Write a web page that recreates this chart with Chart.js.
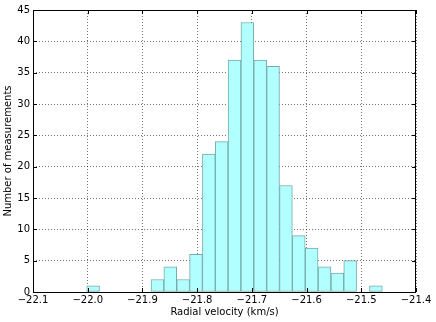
<!DOCTYPE html>
<html>
<head>
<meta charset="utf-8">
<script src="https://cdn.jsdelivr.net/npm/chart.js@4/dist/chart.umd.min.js"></script>
<style>
  body { margin: 0; background: #fff; }
  #wrap { width: 436px; height: 322px; }
</style>
</head>
<body>
<div id="wrap"><canvas id="histChart" width="436" height="322"></canvas></div>
<script>
// histogram bins (bin centres in km/s, counts)
const binCenters = [-21.9901, -21.9666, -21.9431, -21.9196, -21.8961, -21.8726, -21.8491, -21.8256,
  -21.8021, -21.7786, -21.7552, -21.7317, -21.7082, -21.6847, -21.6612, -21.6377, -21.6142,
  -21.5907, -21.5672, -21.5437, -21.5203, -21.4968, -21.4733];
const counts = [1, 0, 0, 0, 0, 2, 4, 2, 6, 22, 24, 37, 43, 37, 36, 17, 9, 7, 4, 3, 5, 0, 1];
const xTickValues = [-22.1, -22.0, -21.9, -21.8, -21.7, -21.6, -21.5, -21.4];
const yTickValues = [0, 5, 10, 15, 20, 25, 30, 35, 40, 45];

const FONT = { family: "'DejaVu Sans'", size: 10 };
const TICKLEN = 4;
const GRIDCOLOR = 'rgba(0,0,0,0.55)';

function minusLabel(v){
  return String(v).replace('-', '\u2212');
}

// black frame round the plot plus inward tick marks on all four sides
const frameAndTicks = {
  id: 'frameAndTicks',
  afterDatasetsDraw(chart){
    const ctx = chart.ctx;
    const a = chart.chartArea;
    const x = chart.scales.x;
    const y = chart.scales.y;
    ctx.save();
    ctx.strokeStyle = '#000';
    ctx.lineWidth = 1;
    ctx.beginPath();
    xTickValues.forEach(v => {
      const px = Math.round(x.getPixelForValue(v)) + 0.5;
      ctx.moveTo(px, a.bottom); ctx.lineTo(px, a.bottom - TICKLEN);
      ctx.moveTo(px, a.top); ctx.lineTo(px, a.top + TICKLEN);
    });
    yTickValues.forEach(v => {
      const py = Math.round(y.getPixelForValue(v)) + 0.5;
      ctx.moveTo(a.left, py); ctx.lineTo(a.left + TICKLEN, py);
      ctx.moveTo(a.right, py); ctx.lineTo(a.right - TICKLEN, py);
    });
    ctx.stroke();
    ctx.strokeRect(Math.round(a.left) + 0.5, Math.round(a.top) + 0.5,
      Math.round(a.right - a.left) - 1, Math.round(a.bottom - a.top));
    ctx.restore();
  }
};

const ctx = document.getElementById("histChart").getContext("2d");
new Chart(ctx, {
  type: "bar",
  data: {
    datasets: [{
      data: binCenters.map((c, i) => ({ x: c, y: counts[i] })),
      backgroundColor: '#b2ffff',
      borderColor: '#76abab',
      borderWidth: 1,
      borderSkipped: false,
      barPercentage: 1,
      categoryPercentage: 1
    }]
  },
  options: {
    responsive: false,
    animation: false,
    layout: { padding: { top: 10, right: 20, left: 0, bottom: 0 } },
    plugins: { legend: { display: false }, tooltip: { enabled: false } },
    scales: {
      x: {
        type: 'linear',
        offset: false,
        min: -22.1,
        max: -21.4,
        afterFit: scale => { scale.height = 30; },
        afterBuildTicks: scale => { scale.ticks = xTickValues.map(v => ({ value: v })); },
        grid: { offset: false, color: GRIDCOLOR, drawTicks: false, tickLength: 0 },
        border: { display: false, dash: [1, 2] },
        ticks: {
          color: '#000', font: FONT, padding: 2, maxRotation: 0, autoSkip: false,
          callback: v => minusLabel(v.toFixed(1))
        },
        title: {
          display: true, text: 'Radial velocity (km/s)', color: '#000', font: FONT,
          padding: { top: 0, bottom: 4 }
        }
      },
      y: {
        min: 0,
        max: 45,
        afterFit: scale => { scale.width = 33; },
        afterBuildTicks: scale => { scale.ticks = yTickValues.map(v => ({ value: v })); },
        grid: { color: GRIDCOLOR, drawTicks: false, tickLength: 0 },
        border: { display: false, dash: [1, 2] },
        ticks: { color: '#000', font: FONT, padding: 3, autoSkip: false },
        title: {
          display: true, text: 'Number of measurements', color: '#000', font: FONT,
          padding: { top: 2, bottom: 0 }
        }
      }
    }
  },
  plugins: [frameAndTicks]
});
</script>
</body>
</html>
